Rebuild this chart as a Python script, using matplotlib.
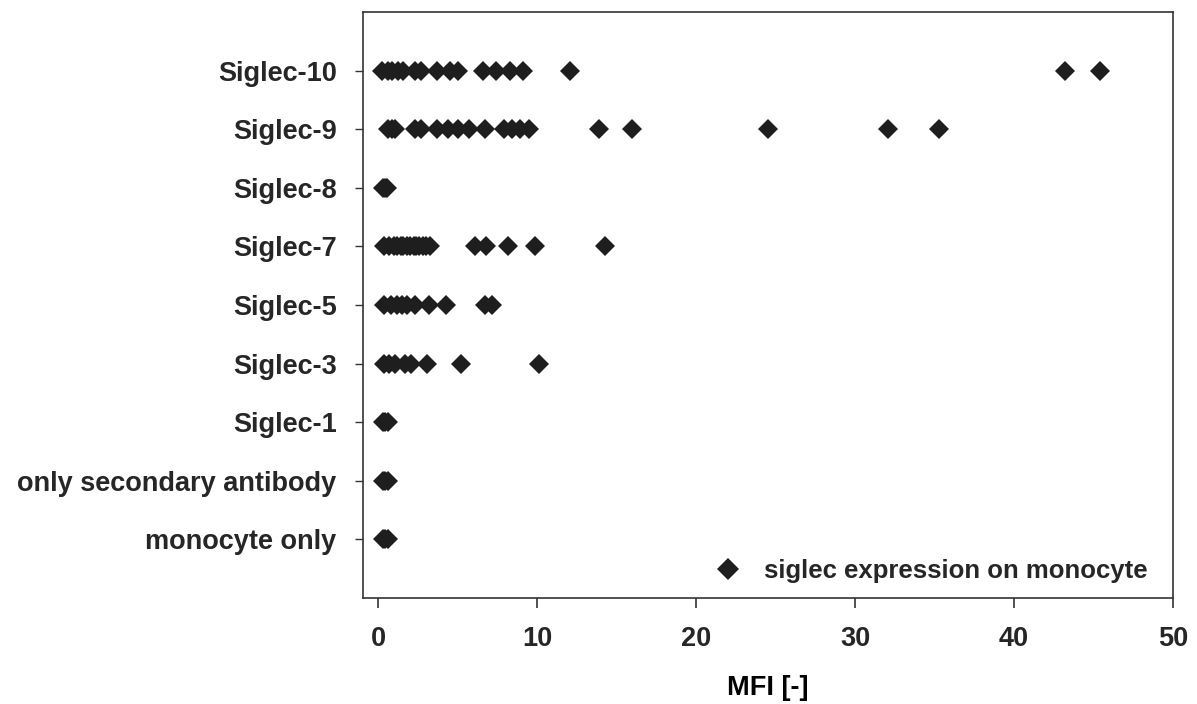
import matplotlib.pyplot as plt
from matplotlib.lines import Line2D

categories = ['monocyte only', 'only secondary antibody', 'Siglec-1', 'Siglec-3',
              'Siglec-5', 'Siglec-7', 'Siglec-8', 'Siglec-9', 'Siglec-10']

monocyte_only = [0.3, 0.45, 0.6]
secondary_only = [0.3, 0.45, 0.6]
siglec_1 = [0.3, 0.45, 0.65]
siglec_3 = [0.4, 0.7, 1.1, 1.7, 2.1, 3.1, 5.2, 10.1]
siglec_5 = [0.4, 0.8, 1.2, 1.5, 1.8, 2.3, 3.2, 4.3, 6.7, 7.2]
siglec_7 = [0.4, 0.7, 1.0, 1.2, 1.45, 1.6, 1.85, 2.0, 2.25, 2.4, 2.6, 2.85,
            3.0, 3.3, 6.1, 6.8, 8.2, 9.9, 14.3]
siglec_8 = [0.3, 0.45, 0.55]
siglec_9 = [0.6, 0.9, 1.1, 2.3, 2.7, 3.7, 4.4, 5.0, 5.7, 6.7, 7.9, 8.4,
            8.9, 9.5, 13.9, 16.0, 24.5, 32.1, 35.3]
siglec_10 = [0.25, 0.6, 0.9, 1.25, 1.6, 2.3, 2.7, 3.7, 4.5, 5.0, 6.6, 7.4,
             8.3, 9.1, 12.1, 43.2, 45.4]

series = [monocyte_only, secondary_only, siglec_1, siglec_3, siglec_5,
          siglec_7, siglec_8, siglec_9, siglec_10]

plt.rcParams['font.family'] = ['Liberation Sans', 'DejaVu Sans']
plt.rcParams['font.weight'] = 'bold'
plt.rcParams['text.color'] = '#262626'
plt.rcParams['xtick.color'] = '#333333'
plt.rcParams['ytick.color'] = '#333333'
plt.rcParams['xtick.labelcolor'] = '#262626'
plt.rcParams['ytick.labelcolor'] = '#262626'

fig = plt.figure(figsize=(11.97, 7.04), dpi=100)
ax = fig.add_axes([0.3033, 0.1506, 0.6767, 0.8324])

col = '#1e1e1e'
for i, vals in enumerate(series):
    ax.plot(vals, [i] * len(vals), linestyle='none', marker='D',
            markersize=10, color=col, markeredgewidth=0)

ax.set_xlim(-0.94, 50)
ax.set_ylim(-1, 9)
ax.set_xticks([0, 10, 20, 30, 40, 50])
ax.set_yticks(range(len(categories)))
ax.set_yticklabels(categories)
ax.tick_params(axis='x', length=7, width=1.2, labelsize=19.5, pad=13)
ax.tick_params(axis='y', length=6, width=1, labelsize=19.5, pad=13)
for s in ax.spines.values():
    s.set_linewidth(1.2)
    s.set_color('#333333')
ax.set_xlabel('MFI [-]', fontsize=19.5, fontweight='bold', labelpad=17)

handle = Line2D([], [], linestyle='none', marker='D', markersize=11,
                color=col, markeredgewidth=0)
ax.legend([handle], ['siglec expression on monocyte'], loc='lower right',
          bbox_to_anchor=(0.994, -0.01), frameon=False, handletextpad=0.8,
          handlelength=1.2, borderaxespad=0.4,
          prop={'weight': 'bold', 'size': 18.5})

fig.savefig('out.png', dpi=100)
